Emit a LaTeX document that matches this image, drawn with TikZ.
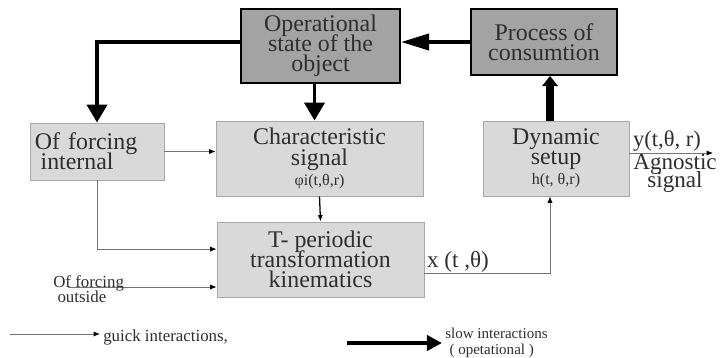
\documentclass[tikz,border=0pt]{standalone}
\usepackage{fontspec}
\setmainfont{Liberation Serif}
\usepackage{tikz}
\usepackage{xcolor}
\usetikzlibrary{arrows.meta,positioning}

\definecolor{darkfill}{HTML}{A3A3A3}
\definecolor{lightfill}{HTML}{D9D9D9}
\definecolor{lightedge}{HTML}{A8A8A8}
\definecolor{txt}{HTML}{2E2E2E}

\newcommand{\boxfont}{\fontsize{17}{14.3}\selectfont\lineskiplimit=-\maxdimen}
\newcommand{\subfont}{\fontsize{11.4}{14.3}\selectfont}
\newcommand{\notefont}{\fontsize{12}{10.7}\selectfont\lineskiplimit=-\maxdimen}
\newcommand{\agnfont}{\fontsize{16.4}{13}\selectfont\lineskiplimit=-\maxdimen}
\newcommand{\legfont}{\fontsize{10.7}{11}\selectfont\lineskiplimit=-\maxdimen}

\tikzset{
  darkbox/.style={draw=black,line width=1.4pt,fill=darkfill,align=center,text=txt,font=\boxfont,inner sep=0pt},
  lightbox/.style={draw=lightedge,line width=0.6pt,fill=lightfill,align=center,text=txt,font=\boxfont,inner sep=0pt},
  slow/.style={line width=2.8pt,-{Triangle[length=0.45cm,width=0.5cm]}},
  quick/.style={draw=black!55,line width=0.6pt,-{Latex[black,length=0.16cm,width=0.13cm]}},
  lbl/.style={text=txt,inner sep=0pt}
}

\begin{document}
\begin{tikzpicture}[x=0.025cm,y=-0.025cm]
\useasboundingbox (0,0) rectangle (720,357);
% blocks
\node[darkbox,minimum width=3.975cm,minimum height=1.85cm] (opstate) at (320.5,46) {Operational\\state of the\\object};
\node[darkbox,minimum width=3.65cm,minimum height=1.65cm] (process) at (544,42) {Process of\\consumtion};
\node[lightbox,minimum width=3.35cm,minimum height=1.425cm,text width=3.1cm,align=left] (internal) at (97,151.5) {Of forcing\\\hspace*{4pt}internal};
\node[lightbox,minimum width=5.175cm,minimum height=1.875cm] (charsig) at (319.5,158.5) {Characteristic\\signal\\{\subfont φi(t,θ,r)}};
\node[lightbox,minimum width=5.175cm,minimum height=1.875cm] (tperiodic) at (320.5,259.5) {T- periodic\\transformation\\kinematics};
\node[lightbox,minimum width=3.65cm,minimum height=1.875cm] (dynamic) at (556,158.5) {Dynamic\\setup\\{\subfont h(t, θ,r)}};
% slow links
\draw[slow,-{Triangle[length=0.7cm,width=0.4cm]}] (process.west) -- (process.west -| opstate.east);
\draw[slow] (opstate.west |- process.west) -| (internal.north);
\draw[slow] ([xshift=-0.15cm]opstate.south) -- ([xshift=-0.15cm]opstate.south |- charsig.north);
\draw[slow,line width=5pt,-{Triangle[length=0.25cm,width=0.38cm]}] ([xshift=-0.15cm]dynamic.north) -- ([xshift=-0.15cm]dynamic.north |- process.south);
% quick links
\coordinate (outs) at (68,287);
\coordinate (yend) at (713,153);
\draw[quick] (internal.east) -- (internal.east -| charsig.west);
\draw[quick] (internal.south) |- ([yshift=0.26cm]tperiodic.west);
\draw[quick] (outs) -- (outs -| tperiodic.west);
\draw[quick,draw=black,line width=0.9pt] (charsig.south) -- (tperiodic.north);
\draw[quick] ([yshift=-0.36cm]tperiodic.east) -| ([xshift=-0.15cm]dynamic.south);
\draw[quick] (dynamic.east |- yend) -- (yend);
% labels
\node[lbl,font=\notefont,align=left,anchor=west] (outlbl) at (53,289) {Of forcing\\\hspace*{3pt}outside};
\node[lbl,font=\fontsize{16.4}{14}\selectfont] (xlbl) at (458,262) {x (t ,θ)};
\node[lbl,font=\fontsize{16}{14}\selectfont] (ylbl) at (667,141) {y(t,θ, r)};
\node[lbl,font=\agnfont,align=center] (agn) at (675,173) {Agnostic\\signal};
% legend
\coordinate (qa) at (10,334);
\coordinate (qb) at (100,334);
\draw[quick] (qa) -- (qb);
\node[lbl,font=\notefont,anchor=west] (qtxt) at (103,337) {guick interactions,};
\coordinate (sa) at (347,343);
\coordinate (sb) at (442,343);
\draw[slow,-{Triangle[length=0.38cm,width=0.38cm]}] (sa) -- (sb);
\node[lbl,font=\legfont,align=left,anchor=west] (stxt) at (445,343) {slow interactions\\\hspace*{3pt}( opetational )};
\end{tikzpicture}
\end{document}
